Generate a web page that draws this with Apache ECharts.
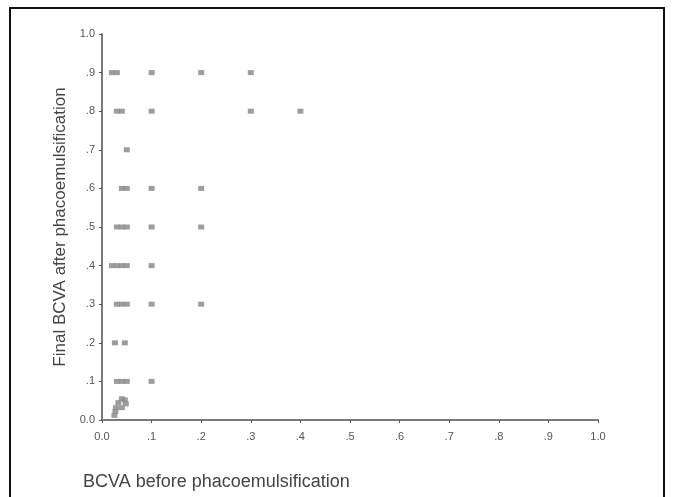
<!DOCTYPE html>
<html>
<head>
<meta charset="utf-8">
<script src="https://cdn.jsdelivr.net/npm/echarts@6/dist/echarts.min.js"></script>
<style>
  html, body { margin: 0; padding: 0; background: #fff; }
  #chart { width: 673px; height: 497px; }
</style>
</head>
<body>
<div id="chart"></div>
<script>
// BCVA before vs after phacoemulsification
var xTicks = ['0.0', '.1', '.2', '.3', '.4', '.5', '.6', '.7', '.8', '.9', '1.0'];
var yTicks = ['0.0', '.1', '.2', '.3', '.4', '.5', '.6', '.7', '.8', '.9', '1.0'];

// before values
var bcvaBefore = [
  0.02, 0.03, 0.1, 0.2, 0.3,
  0.03, 0.04, 0.1, 0.3, 0.4,
  0.05,
  0.04, 0.05, 0.1, 0.2,
  0.03, 0.04, 0.05, 0.1, 0.2,
  0.02, 0.03, 0.04, 0.05, 0.1,
  0.03, 0.04, 0.05, 0.1, 0.2,
  0.026, 0.046,
  0.03, 0.04, 0.05, 0.1,
  0.025, 0.027, 0.028, 0.033, 0.04, 0.046, 0.048, 0.04
];
// final values
var bcvaAfter = [
  0.9, 0.9, 0.9, 0.9, 0.9,
  0.8, 0.8, 0.8, 0.8, 0.8,
  0.7,
  0.6, 0.6, 0.6, 0.6,
  0.5, 0.5, 0.5, 0.5, 0.5,
  0.4, 0.4, 0.4, 0.4, 0.4,
  0.3, 0.3, 0.3, 0.3, 0.3,
  0.2, 0.2,
  0.1, 0.1, 0.1, 0.1,
  0.012, 0.022, 0.032, 0.045, 0.055, 0.052, 0.042, 0.032
];

var points = bcvaBefore.map(function (v, i) { return [v, bcvaAfter[i]]; });

var chart = echarts.init(document.getElementById('chart'));

var axisCommon = {
  type: 'value',
  min: 0,
  max: 1,
  interval: 0.1,
  splitLine: { show: false },
  axisLine: { show: true, lineStyle: { color: '#7a7a7a', width: 2 } },
  axisTick: { show: true, length: 3, lineStyle: { color: '#555', width: 1 } }
};

var option = {
  backgroundColor: '#fff',
  animation: false,
  graphic: [
    {
      type: 'rect',
      shape: { x: 10, y: 8, width: 654, height: 500 },
      style: { fill: 'none', stroke: '#111', lineWidth: 2 }
    }
  ],
  grid: { left: 102, right: 75, top: 34, bottom: 77 },
  xAxis: Object.assign({}, axisCommon, {
    name: 'BCVA before phacoemulsification',
    nameLocation: 'start',
    nameGap: 0,
    nameTextStyle: {
      color: '#444', fontSize: 18, fontFamily: 'Liberation Sans',
      align: 'left', verticalAlign: 'top', padding: [53, 0, 0, -19]
    },
    axisLabel: {
      color: '#555', fontSize: 11, fontFamily: 'Liberation Sans', margin: 11,
      formatter: function (v) { return xTicks[Math.round(v * 10)]; }
    }
  }),
  yAxis: Object.assign({}, axisCommon, {
    name: 'Final BCVA after phacoemulsification',
    nameLocation: 'middle',
    nameGap: 30,
    nameRotate: 90,
    nameTextStyle: { color: '#444', fontSize: 17, fontFamily: 'Liberation Sans' },
    axisLabel: {
      color: '#555', fontSize: 11, fontFamily: 'Liberation Sans', margin: 7,
      formatter: function (v) { return yTicks[Math.round(v * 10)]; }
    }
  }),
  series: [
    {
      type: 'scatter',
      data: points,
      symbol: 'rect',
      symbolSize: [6, 5],
      itemStyle: { color: '#8c8c8c', opacity: 0.85 }
    }
  ]
};

chart.setOption(option);
</script>
</body>
</html>
